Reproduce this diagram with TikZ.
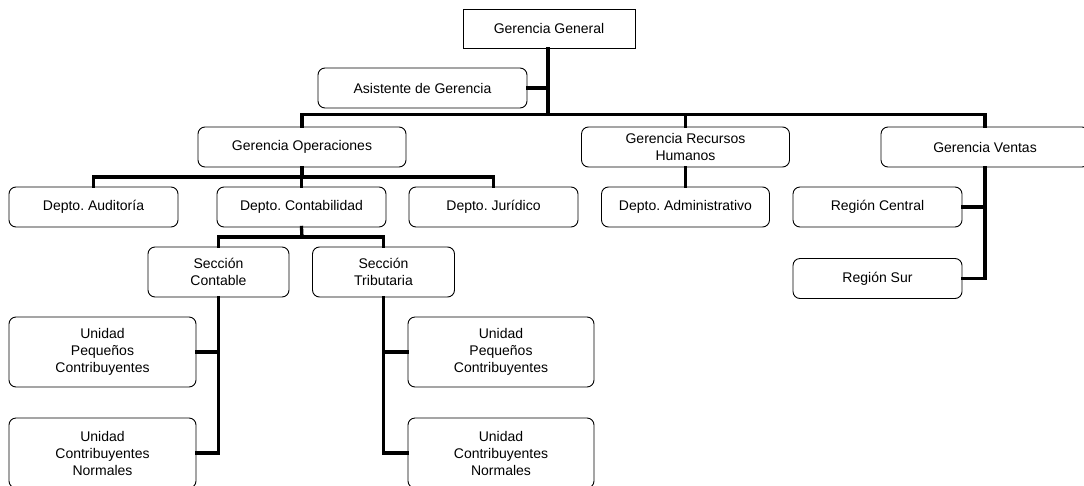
\documentclass[tikz,border=0pt]{standalone}
\usepackage{fontspec}
\setmainfont{Liberation Sans}
\frenchspacing
\begin{document}
\begin{tikzpicture}[x=1pt,y=-1pt,
  box/.style={draw=black, line width=0.9pt, rounded corners=7pt, align=center,
    inner sep=0pt, font=\fontsize{14}{17}\selectfont\frenchspacing, minimum height=40pt},
  sharpbox/.style={box, rounded corners=0pt},
  link/.style={line width=3.3pt, line cap=rect}]
\clip (0,0) rectangle (1084,485);
\fill[white] (0,0) rectangle (1084,485);
% nodes
\node[sharpbox, minimum width=172pt, minimum height=39pt] (gg) at (549,28.5) {Gerencia General};
\node[box, minimum width=209pt] (asis) at (422.5,88) {Asistente de Gerencia};
\node[box, minimum width=208pt] (go) at (302,147) {Gerencia Operaciones};
\node[box, minimum width=208pt] (grh) at (685.5,147) {Gerencia Recursos\\Humanos};
\node[box, minimum width=208pt] (gv) at (985,147) {Gerencia Ventas};
\node[box, minimum width=169pt] (da) at (93.5,207) {Depto. Auditoría};
\node[box, minimum width=169pt] (dc) at (301.5,207) {Depto. Contabilidad};
\node[box, minimum width=169pt] (dj) at (493.5,207) {Depto. Jurídico};
\node[box, minimum width=168pt] (dad) at (685.5,207) {Depto. Administrativo};
\node[box, minimum width=169pt] (rc) at (877.5,207) {Región Central};
\node[box, minimum width=169pt] (rs) at (877.5,278.5) {Región Sur};
\node[box, minimum width=141pt, minimum height=50pt] (sc) at (218.5,272) {Sección\\Contable};
\node[box, minimum width=142pt, minimum height=50pt] (st) at (383.5,272) {Sección\\Tributaria};
\node[box, minimum width=187pt, minimum height=70pt] (u1) at (102.5,352) {Unidad\\Pequeños\\Contribuyentes};
\node[box, minimum width=187pt, minimum height=70pt] (u2) at (102.5,453) {Unidad\\Contribuyentes\\Normales};
\node[box, minimum width=186pt, minimum height=70pt] (u3) at (501,352) {Unidad\\Pequeños\\Contribuyentes};
\node[box, minimum width=186pt, minimum height=70pt] (u4) at (501,453) {Unidad\\Contribuyentes\\Normales};
% bus coordinates
\coordinate (bus) at (548,114.5);
\coordinate (opsbus) at (302,177);
\coordinate (ctbus) at (302,237);
% connectors
\draw[link] (gg.south -| bus) -- (bus);
\draw[link] (asis.east) -- (asis.east -| bus);
\draw[link] (go.north) -- (go.north |- bus) -- (gv.north |- bus) -- (gv.north);
\draw[link] (grh.north |- bus) -- (grh.north);
\draw[link] (go.south) -- (opsbus);
\draw[link] (da.north) -- (da.north |- opsbus) -- (dj.north |- opsbus) -- (dj.north);
\draw[link] (dc.north |- opsbus) -- (dc.north);
\draw[link] (dc.south) -- (ctbus);
\draw[link] (sc.north) -- (sc.north |- ctbus) -- (st.north |- ctbus) -- (st.north);
\draw[link] (grh.south) -- (dad.north);
\draw[link] (sc.south) |- (u2.east);
\draw[link] (sc.south |- u1.east) -- (u1.east);
\draw[link] (st.south) |- (u4.west);
\draw[link] (st.south |- u3.west) -- (u3.west);
\draw[link] (gv.south) |- (rs.east);
\draw[link] (gv.south |- rc.east) -- (rc.east);
\end{tikzpicture}
\end{document}
